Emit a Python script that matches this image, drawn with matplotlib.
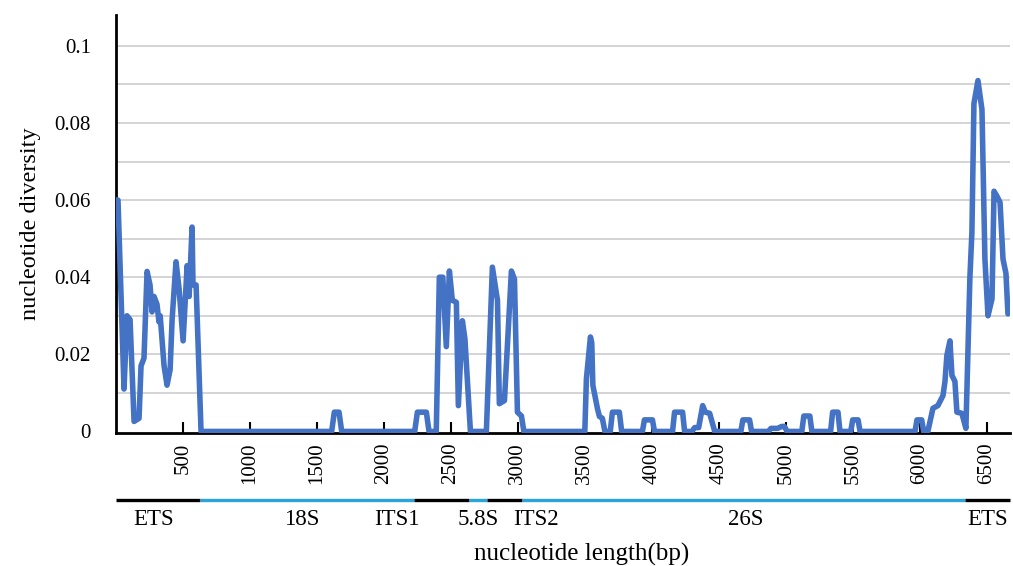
import matplotlib.pyplot as plt
import numpy as np

# sliding-window nucleotide diversity along the rDNA unit
position_bp = [0, 15, 60, 82, 105, 135, 172, 187, 209, 232, 254, 269, 284, 306, 321, 330,
               359, 381, 404, 419, 448, 471, 501, 516, 531, 546, 568, 575, 598, 635,
               1610, 1630, 1665, 1685,
               2230, 2250, 2317, 2337, 2391, 2414, 2440, 2466, 2489, 2511, 2541, 2556, 2586, 2605, 2646,
               2765, 2810, 2848, 2862, 2900, 2952, 2975, 2997, 3027, 3045,
               3500, 3512, 3542, 3552, 3560, 3594, 3609, 3631, 3650,
               3690, 3706, 3758, 3775,
               3930, 3945, 4005, 4020,
               4155, 4170, 4230, 4245,
               4300, 4320, 4350, 4380, 4400, 4432, 4470,
               4665, 4680, 4730, 4745,
               4870, 4890, 4940, 4970, 4990, 5010,
               5120, 5135, 5180, 5195,
               5335, 5350, 5390, 5405,
               5485, 5500, 5540, 5555,
               5965, 5980, 6015, 6030,
               6061, 6099, 6136, 6174, 6189, 6203, 6226, 6241, 6263, 6278, 6315, 6345,
               6375, 6390, 6405, 6435, 6465, 6487, 6510, 6540, 6555, 6577, 6600, 6622, 6644, 6659]
diversity = [0.060, 0.060, 0.011, 0.030, 0.029, 0.0026, 0.0034, 0.017, 0.019, 0.0415, 0.038, 0.031, 0.035, 0.033, 0.0284, 0.030,
             0.017, 0.012, 0.016, 0.029, 0.044, 0.037, 0.0235, 0.0335, 0.043, 0.035, 0.053, 0.038, 0.038, 0.0,
             0, 0.005, 0.005, 0,
             0, 0.005, 0.005, 0, 0, 0.040, 0.040, 0.022, 0.0416, 0.034, 0.0335, 0.0067, 0.0287, 0.024, 0,
             0, 0.0426, 0.034, 0.0072, 0.008, 0.0416, 0.0395, 0.005, 0.004, 0,
             0, 0.0137, 0.0245, 0.023, 0.012, 0.006, 0.0039, 0.0034, 0,
             0, 0.005, 0.005, 0,
             0, 0.003, 0.003, 0,
             0, 0.005, 0.005, 0,
             0, 0.001, 0.001, 0.0067, 0.005, 0.0047, 0,
             0, 0.003, 0.003, 0,
             0, 0.0008, 0.0008, 0.0013, 0.0013, 0,
             0, 0.004, 0.004, 0,
             0, 0.005, 0.005, 0,
             0, 0.003, 0.003, 0,
             0, 0.003, 0.003, 0,
             0, 0.006, 0.0067, 0.0093, 0.013, 0.0197, 0.0235, 0.0145, 0.013, 0.005, 0.0047, 0.0008,
             0.040, 0.0517, 0.085, 0.091, 0.0835, 0.0447, 0.030, 0.0344, 0.0623, 0.061, 0.0594, 0.0447, 0.041, 0.0305]

# gene regions (start, end) in bp
region_names = ['ETS', '18S', 'ITS1', '5.8S', 'ITS2', '26S', 'ETS']
region_start = [0, 630, 2227, 2638, 2773, 3034, 6338]
region_end = [630, 2227, 2638, 2773, 3034, 6338, 6674]
region_label_x = [284, 1383, 2100, 2706, 3139, 4700, 6510]

x_ticks = [500, 1000, 1500, 2000, 2500, 3000, 3500, 4000, 4500, 5000, 5500, 6000, 6500]
y_ticks = [0, 0.02, 0.04, 0.06, 0.08, 0.1]
y_tick_labels = ['0', '0.02', '0.04', '0.06', '0.08', '0.1']

plt.rcParams['font.family'] = ['Liberation Serif', 'DejaVu Serif']

fig = plt.figure(figsize=(10.13, 5.66), dpi=100)
ax = fig.add_axes([0.1145, 0.235, 0.8825, 0.7385])

# grid every 0.01
for g in np.arange(0.01, 0.105, 0.01):
    ax.axhline(g, color='#d4d4d4', lw=1.4, zorder=1)

ax.plot(position_bp, diversity, color='#4472C4', lw=4.0, solid_joinstyle='round',
        solid_capstyle='round', zorder=3)

ax.set_xlim(0, 6674)
ax.set_ylim(-0.0004, 0.108)
ax.set_xticks(x_ticks)
ax.set_xticklabels([str(t) for t in x_ticks], rotation=90, fontsize=15)
ax.set_yticks(y_ticks)
ax.set_yticklabels(y_tick_labels, fontsize=15)
ax.tick_params(axis='x', direction='in', length=8, width=1.5, pad=7)
ax.tick_params(axis='y', length=0, pad=18)

for side in ['top', 'right']:
    ax.spines[side].set_visible(False)
ax.spines['left'].set_linewidth(2)
ax.spines['bottom'].set_linewidth(2)

ax.set_ylabel('nucleotide diversity', fontsize=17.5, labelpad=10)

# region bar below the axis
trans = ax.get_xaxis_transform()
for i, name in enumerate(region_names):
    col = 'black' if name in ('ETS', 'ITS1', 'ITS2') else '#2aa4dd'
    ax.plot([region_start[i], region_end[i]], [-0.160, -0.160], color=col, lw=2.4,
            transform=trans, clip_on=False, solid_capstyle='butt')
    ax.text(region_label_x[i], -0.208, name, transform=trans, ha='center', va='center',
            fontsize=16.5)

ax.text(3478, -0.290, 'nucleotide length(bp)', transform=trans, ha='center', va='center',
        fontsize=18)

fig.savefig('out.png', dpi=100)
